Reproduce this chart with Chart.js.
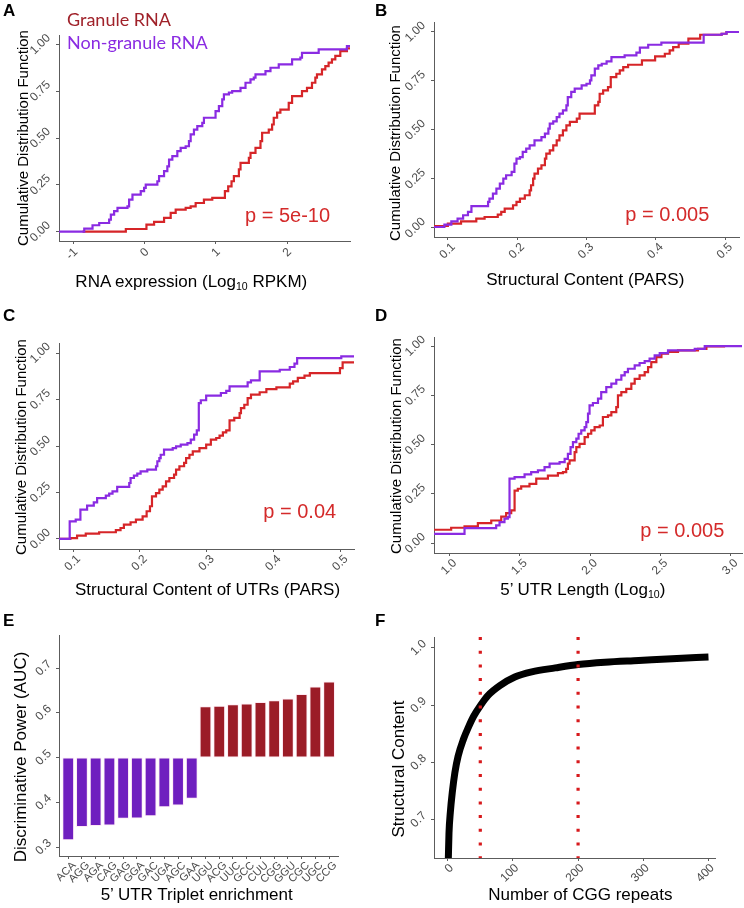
<!DOCTYPE html>
<html>
<head>
<meta charset="utf-8">
<script src="https://cdn.jsdelivr.net/npm/chart.js@4.4.1/dist/chart.umd.min.js"></script>
<style>
  html, body { margin: 0; padding: 0; background: #fff; }
  #page { position: relative; width: 744px; height: 908px; overflow: hidden; }
  .cell { position: absolute; }
  .cell canvas { display: block; }
  .txt { position: absolute; white-space: nowrap; line-height: 1; }
  .txt sub { font-size: 0.62em; vertical-align: -0.28em; line-height: 0; }
</style>
</head>
<body>
<div id="page">
  <div class="cell" style="left:0;top:0"><canvas id="chartA" width="372" height="300"></canvas></div>
  <div class="cell" style="left:372px;top:0"><canvas id="chartB" width="372" height="300"></canvas></div>
  <div class="cell" style="left:0;top:300px"><canvas id="chartC" width="372" height="300"></canvas></div>
  <div class="cell" style="left:372px;top:300px"><canvas id="chartD" width="372" height="300"></canvas></div>
  <div class="cell" style="left:0;top:600px"><canvas id="chartE" width="372" height="308"></canvas></div>
  <div class="cell" style="left:372px;top:600px"><canvas id="chartF" width="372" height="308"></canvas></div>
</div>
<script>
// ---- data ----
// A: RNA expression (log10 RPKM), ECDF steps (x = jump position, y = value after jump)
const aNonX  = [-1.2, -0.846, -0.730, -0.636, -0.497, -0.473, -0.427, -0.380, -0.240, -0.217, -0.170, -0.054, -0.007, 0.016, 0.179, 0.203, 0.273, 0.319, 0.343, 0.389, 0.459, 0.506, 0.576, 0.622, 0.646, 0.692, 0.739, 0.809, 0.832, 0.995, 1.042, 1.089, 1.112, 1.182, 1.228, 1.345, 1.415, 1.485, 1.531, 1.555, 1.695, 1.765, 1.881, 2.068, 2.184, 2.207, 2.441, 2.837, 2.88];
const aNonY  = [0, 0.016, 0.034, 0.046, 0.064, 0.091, 0.109, 0.127, 0.135, 0.171, 0.198, 0.216, 0.234, 0.251, 0.269, 0.296, 0.323, 0.349, 0.385, 0.403, 0.430, 0.447, 0.456, 0.483, 0.519, 0.545, 0.563, 0.581, 0.608, 0.643, 0.670, 0.706, 0.733, 0.742, 0.750, 0.768, 0.795, 0.813, 0.822, 0.840, 0.857, 0.875, 0.893, 0.920, 0.929, 0.955, 0.973, 0.991, 0.991];
const aGranX = [-0.87, -0.263, 0.026, 0.133, 0.273, 0.366, 0.436, 0.576, 0.646, 0.716, 0.832, 0.949, 1.126, 1.172, 1.219, 1.252, 1.322, 1.345, 1.462, 1.485, 1.555, 1.625, 1.648, 1.741, 1.788, 1.811, 1.858, 1.904, 2.021, 2.068, 2.207, 2.277, 2.347, 2.394, 2.417, 2.487, 2.534, 2.580, 2.627, 2.674, 2.744, 2.837, 2.88];
const aGranY = [0, 0.014, 0.037, 0.052, 0.073, 0.100, 0.118, 0.127, 0.135, 0.153, 0.171, 0.180, 0.216, 0.242, 0.269, 0.296, 0.332, 0.367, 0.394, 0.421, 0.447, 0.483, 0.528, 0.545, 0.572, 0.608, 0.635, 0.652, 0.688, 0.724, 0.750, 0.768, 0.795, 0.822, 0.840, 0.866, 0.884, 0.902, 0.920, 0.938, 0.964, 0.979, 0.979];

// B: structural content (PARS)
const bNonX  = [0.08, 0.095, 0.105, 0.114, 0.122, 0.129, 0.134, 0.158, 0.160, 0.165, 0.170, 0.175, 0.180, 0.184, 0.192, 0.196, 0.199, 0.204, 0.208, 0.213, 0.218, 0.225, 0.235, 0.240, 0.245, 0.247, 0.252, 0.257, 0.261, 0.266, 0.271, 0.273, 0.278, 0.283, 0.293, 0.300, 0.305, 0.307, 0.312, 0.317, 0.322, 0.329, 0.336, 0.355, 0.372, 0.377, 0.389, 0.408, 0.469, 0.495, 0.502, 0.52];
const bNonY  = [0.005, 0.017, 0.034, 0.048, 0.065, 0.082, 0.112, 0.133, 0.150, 0.175, 0.201, 0.226, 0.252, 0.269, 0.286, 0.328, 0.354, 0.362, 0.388, 0.405, 0.422, 0.447, 0.464, 0.481, 0.507, 0.532, 0.544, 0.566, 0.583, 0.600, 0.626, 0.668, 0.694, 0.711, 0.728, 0.736, 0.753, 0.779, 0.813, 0.830, 0.838, 0.850, 0.872, 0.881, 0.895, 0.920, 0.935, 0.946, 0.986, 0.991, 1.0, 1.0];
const bGranX = [0.08, 0.100, 0.119, 0.141, 0.153, 0.172, 0.177, 0.182, 0.194, 0.199, 0.204, 0.211, 0.218, 0.220, 0.223, 0.225, 0.230, 0.235, 0.240, 0.242, 0.247, 0.252, 0.257, 0.261, 0.266, 0.271, 0.276, 0.286, 0.290, 0.312, 0.317, 0.319, 0.324, 0.331, 0.335, 0.343, 0.348, 0.353, 0.360, 0.380, 0.399, 0.413, 0.420, 0.425, 0.433, 0.447, 0.464, 0.495, 0.502, 0.52];
const bGranY = [0.010, 0.022, 0.034, 0.048, 0.056, 0.068, 0.082, 0.099, 0.116, 0.133, 0.150, 0.167, 0.192, 0.218, 0.252, 0.277, 0.303, 0.320, 0.354, 0.379, 0.396, 0.422, 0.447, 0.473, 0.498, 0.524, 0.541, 0.558, 0.583, 0.626, 0.643, 0.685, 0.702, 0.719, 0.770, 0.787, 0.804, 0.821, 0.833, 0.855, 0.876, 0.889, 0.906, 0.923, 0.940, 0.966, 0.986, 0.991, 1.0, 1.0];

// C: structural content of UTRs (PARS)
const cNonX  = [0.079, 0.095, 0.104, 0.111, 0.121, 0.131, 0.136, 0.149, 0.154, 0.159, 0.166, 0.184, 0.186, 0.191, 0.196, 0.201, 0.211, 0.224, 0.226, 0.229, 0.231, 0.236, 0.249, 0.254, 0.261, 0.271, 0.276, 0.281, 0.285, 0.288, 0.291, 0.299, 0.321, 0.329, 0.334, 0.361, 0.366, 0.379, 0.409, 0.424, 0.431, 0.435, 0.501, 0.52];
const cNonY  = [0, 0.095, 0.104, 0.158, 0.179, 0.197, 0.220, 0.233, 0.244, 0.256, 0.280, 0.301, 0.328, 0.341, 0.351, 0.364, 0.373, 0.391, 0.418, 0.435, 0.453, 0.480, 0.489, 0.498, 0.507, 0.516, 0.534, 0.561, 0.584, 0.731, 0.746, 0.771, 0.785, 0.797, 0.821, 0.842, 0.853, 0.901, 0.910, 0.925, 0.943, 0.973, 0.982, 0.982];
const cGranX = [0.079, 0.096, 0.106, 0.119, 0.139, 0.164, 0.171, 0.176, 0.186, 0.194, 0.204, 0.210, 0.215, 0.218, 0.224, 0.229, 0.234, 0.239, 0.244, 0.251, 0.254, 0.259, 0.266, 0.269, 0.274, 0.279, 0.289, 0.299, 0.306, 0.314, 0.319, 0.324, 0.329, 0.334, 0.341, 0.349, 0.351, 0.356, 0.361, 0.366, 0.379, 0.389, 0.404, 0.424, 0.429, 0.436, 0.446, 0.454, 0.499, 0.503, 0.52];
const cGranY = [0, 0.005, 0.018, 0.029, 0.036, 0.047, 0.059, 0.077, 0.090, 0.104, 0.122, 0.149, 0.176, 0.229, 0.247, 0.265, 0.283, 0.310, 0.328, 0.346, 0.373, 0.391, 0.409, 0.435, 0.453, 0.471, 0.489, 0.507, 0.534, 0.543, 0.556, 0.573, 0.584, 0.638, 0.651, 0.677, 0.704, 0.722, 0.758, 0.776, 0.789, 0.806, 0.815, 0.835, 0.848, 0.866, 0.878, 0.892, 0.919, 0.950, 0.950];

// D: 5' UTR length (log10)
const dNonX  = [0.89, 1.107, 1.332, 1.356, 1.391, 1.415, 1.427, 1.463, 1.534, 1.581, 1.629, 1.676, 1.712, 1.783, 1.819, 1.842, 1.861, 1.878, 1.902, 1.918, 1.937, 1.961, 1.973, 1.985, 1.996, 2.020, 2.056, 2.079, 2.115, 2.151, 2.186, 2.222, 2.246, 2.269, 2.317, 2.352, 2.388, 2.423, 2.459, 2.495, 2.554, 2.744, 2.815, 3.08];
const dNonY  = [0.047, 0.076, 0.090, 0.107, 0.124, 0.132, 0.327, 0.335, 0.349, 0.360, 0.369, 0.386, 0.403, 0.411, 0.428, 0.453, 0.487, 0.513, 0.530, 0.555, 0.572, 0.589, 0.614, 0.657, 0.699, 0.711, 0.733, 0.766, 0.792, 0.809, 0.829, 0.851, 0.868, 0.885, 0.902, 0.914, 0.924, 0.936, 0.953, 0.964, 0.978, 0.986, 1.0, 1.0];
const dGranX = [0.89, 1.012, 1.107, 1.202, 1.297, 1.368, 1.403, 1.439, 1.463, 1.486, 1.510, 1.569, 1.617, 1.700, 1.771, 1.807, 1.830, 1.842, 1.854, 1.890, 1.902, 1.925, 1.961, 1.985, 2.008, 2.032, 2.068, 2.091, 2.127, 2.151, 2.186, 2.198, 2.222, 2.257, 2.293, 2.317, 2.352, 2.388, 2.412, 2.435, 2.471, 2.507, 2.554, 2.625, 2.767, 2.827, 2.96];
const dGranY = [0.068, 0.078, 0.085, 0.102, 0.115, 0.135, 0.152, 0.166, 0.267, 0.276, 0.288, 0.301, 0.327, 0.343, 0.355, 0.360, 0.377, 0.403, 0.420, 0.462, 0.487, 0.504, 0.538, 0.555, 0.572, 0.589, 0.597, 0.640, 0.648, 0.665, 0.690, 0.750, 0.766, 0.783, 0.809, 0.834, 0.851, 0.868, 0.893, 0.919, 0.944, 0.961, 0.970, 0.978, 0.986, 0.998, 0.998];

// E: 5' UTR triplet enrichment (AUC)
const triplets = ['ACA', 'AGG', 'AGA', 'CAG', 'GAG', 'GGA', 'GAC', 'UGA', 'AGC', 'GAA', 'UGU', 'ACG', 'UUC', 'GCC', 'CUU', 'CGG', 'GGU', 'CGC', 'UGC', 'CCG'];
const aucValues = [0.315, 0.345, 0.347, 0.348, 0.363, 0.364, 0.369, 0.389, 0.393, 0.408, 0.615, 0.616, 0.619, 0.621, 0.624, 0.628, 0.632, 0.642, 0.659, 0.670];
const aucBaseline = 0.5;

// F: structural content vs number of CGG repeats
const cggRepeats = [1, 2, 4, 7, 11, 16, 24, 32, 40, 50, 62, 80, 103, 129, 165, 200, 241, 293, 344, 400];
const structContent = [0.633, 0.677, 0.712, 0.747, 0.782, 0.811, 0.840, 0.862, 0.881, 0.899, 0.917, 0.934, 0.949, 0.958, 0.965, 0.971, 0.975, 0.978, 0.981, 0.984];
const cutoffs = [50, 200];

// tick values
const cdfTicks = [0, 0.25, 0.5, 0.75, 1];
const exprTicks = [-1, 0, 1, 2];
const parsTicks = [0.1, 0.2, 0.3, 0.4, 0.5];
const lenTicks = [1.0, 1.5, 2.0, 2.5, 3.0];
const aucTicks = [0.3, 0.4, 0.5, 0.6, 0.7];
const repeatTicks = [0, 100, 200, 300, 400];
const contentTicks = [0.7, 0.8, 0.9, 1.0];

// ---- styling ----
const FONT = '"Liberation Sans", Arial, Helvetica, sans-serif';
const AXIS = '#5c5c5c';
const TICK = '#4d4d4d';
const PURPLE = '#8A2BE2';
const RED = '#D62528';
const BAR_PURPLE = '#6F1FBF';
const BAR_RED = '#9B1C27';

Chart.defaults.font.family = FONT;

function pts(xs, ys) {
    const n = Math.min(xs.length, ys.length);
    const out = [];
    for (let i = 0; i < n; i++) out.push({ x: xs[i], y: ys[i] });
    return out;
}

function fixWidth(w) {
    return s => { s.width = w; s.paddingLeft = s.paddingRight = s.paddingTop = s.paddingBottom = 0; };
}
function fixHeight(h) {
    return s => { s.height = h; s.paddingLeft = s.paddingRight = s.paddingTop = s.paddingBottom = 0; };
}

function axis(o) {
    const vertical = !!o.w;
    return {
        type: 'linear',
        min: o.min,
        max: o.max,
        offset: false,
        afterBuildTicks: s => { s.ticks = o.ticks.map(v => ({ value: v })); },
        afterFit: vertical ? fixWidth(o.w) : fixHeight(o.h),
        border: { color: AXIS, width: 1 },
        grid: { drawOnChartArea: false, drawTicks: true, tickLength: 3, color: AXIS, offset: false },
        ticks: {
            color: TICK,
            font: { family: FONT, size: o.size || 12 },
            minRotation: 45, maxRotation: 45,
            autoSkip: false,
            padding: o.pad || 0,
            labelOffset: o.offset || 0,
            crossAlign: vertical ? 'center' : 'near',
            callback: o.fmt
        }
    };
}

const baseOptions = (pad, x, y) => ({
    responsive: false,
    animation: false,
    layout: { padding: pad },
    plugins: { legend: { display: false }, tooltip: { enabled: false } },
    scales: { x: x, y: y }
});

function cdfChart(id, pad, x, y, non, gran) {
    new Chart(document.getElementById(id), {
        type: 'line',
        data: {
            datasets: [
                { data: non, borderColor: PURPLE, borderWidth: 2.2, stepped: true, pointRadius: 0, fill: false },
                { data: gran, borderColor: RED, borderWidth: 2.2, stepped: true, pointRadius: 0, fill: false }
            ]
        },
        options: baseOptions(pad, x, y)
    });
}

const f2 = v => v.toFixed(2);
const f1 = v => v.toFixed(1);

// A
cdfChart('chartA', { left: 0, top: 35, right: 22, bottom: 0 },
    axis({ min: -1.2, max: 2.88, ticks: exprTicks, h: 59, pad: 1, offset: 2.5, fmt: v => String(v) }),
    axis({ min: -0.05, max: 1.05, ticks: cdfTicks, w: 59, pad: 4, fmt: f2 }),
    pts(aNonX, aNonY), pts(aGranX, aGranY));

// B
cdfChart('chartB', { left: 0, top: 22, right: 5, bottom: 0 },
    axis({ min: 0.08, max: 0.52, ticks: parsTicks, h: 63, pad: 0, offset: 5.5, fmt: f1 }),
    axis({ min: -0.046, max: 1.051, ticks: cdfTicks, w: 62, pad: 4, fmt: f2 }),
    pts(bNonX, bNonY), pts(bGranX, bGranY));

// C
cdfChart('chartC', { left: 0, top: 43, right: 18, bottom: 0 },
    axis({ min: 0.079, max: 0.52, ticks: parsTicks, h: 51, pad: 0, offset: 5.5, fmt: f1 }),
    axis({ min: -0.054, max: 1.054, ticks: cdfTicks, w: 59, pad: 4, fmt: f2 }),
    pts(cNonX, cNonY), pts(cGranX, cGranY));

// D
cdfChart('chartD', { left: 0, top: 37, right: 2, bottom: 0 },
    axis({ min: 0.89, max: 3.08, ticks: lenTicks, h: 47, pad: 0, offset: 5.5, fmt: f1 }),
    axis({ min: -0.05, max: 1.046, ticks: cdfTicks, w: 62, pad: 4, fmt: f2 }),
    pts(dNonX, dNonY), pts(dGranX, dGranY));

// E
const tripletIdx = triplets.map((t, i) => i);
new Chart(document.getElementById('chartE'), {
    type: 'bar',
    data: {
        datasets: [{
            data: tripletIdx.map(i => ({ x: i, y: [aucBaseline, aucValues[i]] })),
            backgroundColor: aucValues.map(v => v < aucBaseline ? BAR_PURPLE : BAR_RED),
            borderColor: 'rgba(255,225,240,0.75)',
            borderWidth: 1,
            borderSkipped: false,
            barPercentage: 0.86,
            categoryPercentage: 1
        }]
    },
    options: baseOptions({ left: 0, top: 35, right: 34, bottom: 0 },
        axis({ min: -0.67, max: 19.65, ticks: tripletIdx, h: 52, pad: 0, offset: 6, size: 11, fmt: v => triplets[v] }),
        axis({ min: 0.28, max: 0.774, ticks: aucTicks, w: 59, pad: 4, fmt: f1 }))
});

// F
const fMin = 0.633, fMax = 1.019;
new Chart(document.getElementById('chartF'), {
    type: 'line',
    data: {
        datasets: cutoffs.map(c => ({
            data: [{ x: c, y: fMax }, { x: c, y: fMin }],
            borderColor: '#D7191C', borderWidth: 3.2, borderDash: [3, 10.7],
            borderCapStyle: 'butt', pointRadius: 0, fill: false
        })).concat([{
            data: pts(cggRepeats, structContent),
            borderColor: '#000', borderWidth: 7, cubicInterpolationMode: 'monotone',
            pointRadius: 0, fill: false
        }])
    },
    options: baseOptions({ left: 0, top: 37, right: 29, bottom: 0 },
        axis({ min: -21, max: 410, ticks: repeatTicks, h: 50, pad: 0, offset: 4, fmt: v => String(v) }),
        axis({ min: fMin, max: fMax, ticks: contentTicks, w: 62, pad: 4, fmt: f1 }))
});

// ---- text ----
const page = document.getElementById('page');
const ARIAL_BASE = 0.8465;
const LATO_BASE = 0.887;

function put(html, x, base, size, o) {
    o = o || {};
    const d = document.createElement('div');
    d.className = 'txt';
    d.innerHTML = html;
    const k = o.lato ? LATO_BASE : ARIAL_BASE;
    d.style.fontFamily = o.lato ? 'Lato, "Open Sans", sans-serif' : FONT;
    d.style.fontSize = size + 'px';
    d.style.color = o.color || '#000';
    if (o.bold) d.style.fontWeight = 'bold';
    if (o.rotate) {
        // x = baseline position, base = vertical centre
        d.style.left = (x - (k - 0.5) * size) + 'px';
        d.style.top = base + 'px';
        d.style.transform = 'translate(-50%,-50%) rotate(-90deg)';
    } else if (o.center) {
        d.style.left = x + 'px';
        d.style.top = (base - k * size) + 'px';
        d.style.transform = 'translateX(-50%)';
    } else {
        d.style.left = x + 'px';
        d.style.top = (base - k * size) + 'px';
    }
    page.appendChild(d);
}

// panel letters
put('A', 3, 16.7, 17, { bold: true });
put('B', 375, 16.7, 17, { bold: true });
put('C', 3, 321.7, 17, { bold: true });
put('D', 375, 321.7, 17, { bold: true });
put('E', 3, 626, 17, { bold: true });
put('F', 375, 626, 17, { bold: true });

// legend
put('Granule RNA', 67, 25.7, 18, { lato: true, color: '#A0222A' });
put('Non-granule RNA', 67, 49.3, 18, { lato: true, color: PURPLE });

// p values
const pRed = '#D42A2A';
put('p = 5e-10', 245, 222.3, 20, { color: pRed });
put('p = 0.005', 625.3, 221, 20, { color: pRed });
put('p = 0.04', 263.3, 518.3, 20, { color: pRed });
put('p = 0.005', 640.3, 537.3, 20, { color: pRed });

// y titles
put('Cumulative Distribution Function', 26.7, 137.5, 15, { rotate: true });
put('Cumulative Distribution Function', 399.3, 133.3, 15, { rotate: true });
put('Cumulative Distribution Function', 25, 446.7, 15, { rotate: true });
put('Cumulative Distribution Function', 400.3, 445.8, 15, { rotate: true });
put('Discriminative Power (AUC)', 25.7, 756.7, 17, { rotate: true });
put('Structural Content', 403.7, 769.2, 17, { rotate: true });

// x titles
put('RNA expression (Log<sub>10</sub> RPKM)', 191.3, 287.3, 17, { center: true });
put('Structural Content (PARS)', 585.3, 285, 17, { center: true });
put('Structural Content of UTRs (PARS)', 207.5, 595, 17, { center: true });
put('5\u2019 UTR Length (Log<sub>10</sub>)', 582.8, 595.5, 17, { center: true });
put('5\u2019 UTR Triplet enrichment', 196.7, 900.5, 17, { center: true });
put('Number of CGG repeats', 580.3, 900.5, 17, { center: true });
</script>
</body>
</html>
